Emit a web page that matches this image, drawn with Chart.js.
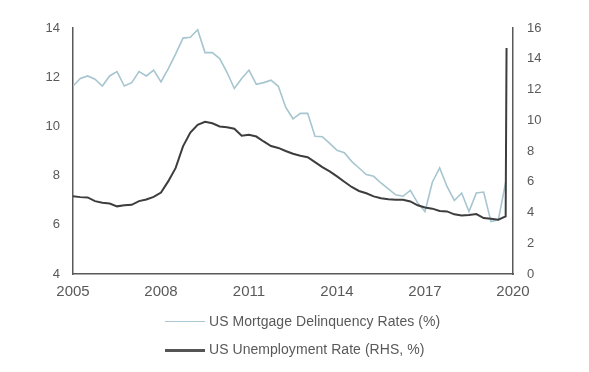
<!DOCTYPE html>
<html>
<head>
<meta charset="utf-8">
<script src="https://cdn.jsdelivr.net/npm/chart.js@4"></script>
<style>
  body { margin: 0; background: #fff; }
  #wrap { position: relative; width: 589px; height: 372px; }
  #legend { position: absolute; left: 165px; top: 310px; font-family: "Liberation Sans", Arial, sans-serif; font-size: 14px; color: #595959; letter-spacing: 0.05px; }
  .row { position: relative; height: 28px; }
  .swatch { position: absolute; left: 0; width: 40px; }
  .label { position: absolute; left: 44px; top: 3px; white-space: nowrap; }
</style>
</head>
<body>
<div id="wrap">
  <canvas id="myChart" width="589" height="372"></canvas>
  <div id="legend">
    <div class="row"><span class="swatch" style="top:11px;border-top:1.5px solid #a9c8d3"></span><span class="label">US Mortgage Delinquency Rates (%)</span></div>
    <div class="row"><span class="swatch" style="top:11px;border-top:3px solid #555"></span><span class="label">US Unemployment Rate (RHS, %)</span></div>
  </div>
</div>
<script>
// quarterly dates (decimal years)
var quarters = [
  2005, 2005.25, 2005.5, 2005.75, 2006, 2006.25, 2006.5, 2006.75,
  2007, 2007.25, 2007.5, 2007.75, 2008, 2008.25, 2008.5, 2008.75,
  2009, 2009.25, 2009.5, 2009.75, 2010, 2010.25, 2010.5, 2010.75,
  2011, 2011.25, 2011.5, 2011.75, 2012, 2012.25, 2012.5, 2012.75,
  2013, 2013.25, 2013.5, 2013.75, 2014, 2014.25, 2014.5, 2014.75,
  2015, 2015.25, 2015.5, 2015.75, 2016, 2016.25, 2016.5, 2016.75,
  2017, 2017.25, 2017.5, 2017.75, 2018, 2018.25, 2018.5, 2018.75,
  2019, 2019.25, 2019.5, 2019.75
];
var spikeDate = 2019.78;

var mortgage = [
  11.64, 11.95, 12.05, 11.92, 11.64, 12.05, 12.23, 11.64, 11.78, 12.23,
  12.05, 12.29, 11.81, 12.35, 12.95, 13.59, 13.62, 13.93, 13.0, 13.0,
  12.76, 12.2, 11.54, 11.95, 12.29, 11.71, 11.78, 11.88, 11.63, 10.78,
  10.31, 10.53, 10.53, 9.6, 9.58, 9.31, 9.03, 8.93, 8.58, 8.31,
  8.04, 7.97, 7.7, 7.46, 7.22, 7.16, 7.4, 6.89, 6.54, 7.73,
  8.31, 7.56, 6.99, 7.29, 6.54, 7.29, 7.33, 6.13, 6.2, 7.73
];
var unemployment = [
  5.06, 5.0, 4.98, 4.74, 4.63, 4.58, 4.4, 4.47, 4.5, 4.74,
  4.85, 5.02, 5.3, 6.04, 6.9, 8.3, 9.2, 9.7, 9.9, 9.8,
  9.6, 9.55, 9.45, 9.0, 9.05, 8.94, 8.62, 8.32, 8.2, 8.0,
  7.82, 7.69, 7.6, 7.28, 6.95, 6.67, 6.35, 6.0, 5.66, 5.4,
  5.25, 5.05, 4.93, 4.86, 4.83, 4.83, 4.72, 4.47, 4.33, 4.25,
  4.1, 4.07, 3.88, 3.8, 3.84, 3.9, 3.64, 3.6, 3.53, 3.75,
  14.7
];
var unempDates = quarters.concat([spikeDate]);

function pairs(xs, ys) {
  return ys.map(function (v, i) { return { x: xs[i], y: v }; });
}

var axisColor = '#595959';
var tickFont = { family: 'Liberation Sans, Arial, sans-serif', size: 13 };

var ctx = document.getElementById('myChart').getContext('2d');
var chart = new Chart(ctx, {
  type: 'line',
  data: {
    datasets: [{
      label: 'US Mortgage Delinquency Rates (%)',
      data: pairs(quarters, mortgage),
      borderColor: '#a6c5cf',
      borderWidth: 1.6,
      pointRadius: 0,
      yAxisID: 'y',
      order: 1
    }, {
      label: 'US Unemployment Rate (RHS, %)',
      data: pairs(unempDates, unemployment),
      borderColor: '#3d3d3d',
      borderWidth: 2,
      pointRadius: 0,
      yAxisID: 'y1',
      order: 0
    }]
  },
  options: {
    responsive: false,
    animation: false,
    devicePixelRatio: 1,
    layout: { padding: { top: 28, left: 0, right: 0, bottom: 0 } },
    plugins: { legend: { display: false }, tooltip: { enabled: false } },
    scales: {
      x: {
        type: 'linear',
        min: 2005, max: 2020,
        grid: { display: false, drawTicks: false },
        border: { display: true, color: axisColor, width: 1.5 },
        ticks: {
          stepSize: 3, padding: 9, color: axisColor,
          font: { family: 'Liberation Sans, Arial, sans-serif', size: 15 },
          callback: function (v) { return String(v); }
        },
        afterFit: function (s) { s.height = 98; }
      },
      y: {
        position: 'left',
        min: 4, max: 14,
        grid: { display: false, drawTicks: false },
        border: { display: true, color: axisColor, width: 1.5 },
        ticks: { stepSize: 2, padding: 13, color: axisColor, font: tickFont },
        afterFit: function (s) { s.width = 73; }
      },
      y1: {
        position: 'right',
        min: 0, max: 16,
        grid: { display: false, drawTicks: false },
        border: { display: true, color: axisColor, width: 1.5 },
        ticks: { stepSize: 2, padding: 14, color: axisColor, font: tickFont },
        afterFit: function (s) { s.width = 76; }
      }
    }
  }
});
</script>
</body>
</html>
